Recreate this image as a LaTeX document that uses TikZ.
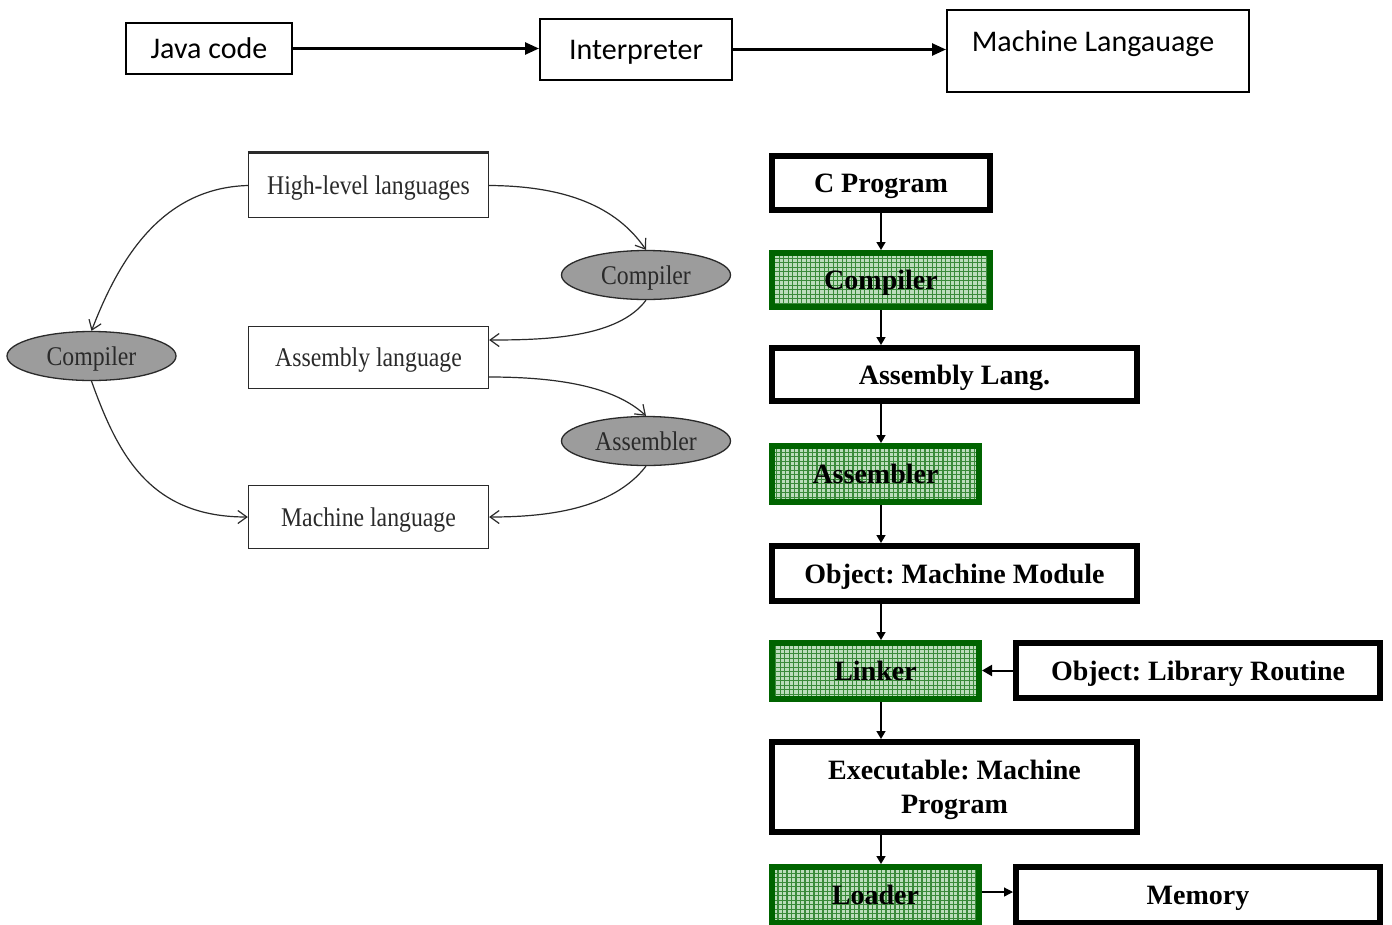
\documentclass[tikz,border=0pt]{standalone}
\usepackage{fontspec}
\setmainfont{Liberation Serif}
\newfontfamily\calibfont{Carlito}
\newfontfamily\narrowserif[FakeStretch=0.88]{Liberation Serif}
\usetikzlibrary{arrows.meta,shapes.geometric,calc}
\definecolor{toolgreen}{HTML}{006400}
\definecolor{gridgreen}{HTML}{3A8A3A}
\definecolor{cellgreen}{HTML}{BCDDBC}
\definecolor{inkgray}{HTML}{2A2A2A}
\definecolor{bubblegray}{HTML}{9C9C9C}
\frenchspacing
\begin{document}
\frenchspacing
\begin{tikzpicture}[x=1pt,y=-1pt,
  topbox/.style={draw=black, line width=2pt, inner sep=0pt, text depth=0pt,
    font=\calibfont\fontsize{30}{34}\selectfont},
  toparrow/.style={line width=2.5pt, -{Triangle[length=14pt,width=12pt]}},
  langbox/.style={draw=inkgray, line width=1.3pt, inner sep=0pt, text depth=0pt,
    minimum width=240pt, text=inkgray,
    font=\narrowserif\fontsize{27}{30}\selectfont},
  bubble/.style={ellipse, draw=inkgray, line width=1.3pt, fill=bubblegray,
    inner sep=0pt, minimum width=169pt, minimum height=49pt, text=inkgray,
    text depth=0pt, font=\narrowserif\fontsize{27}{30}\selectfont},
  curvearrow/.style={draw=inkgray, line width=1.2pt,
    -{Straight Barb[length=9pt,width=13pt]}},
  stagebox/.style={draw=black, line width=6pt, fill=white, inner sep=0pt,
    text depth=0pt, align=center, font=\bfseries\fontsize{28}{34}\selectfont},
  toolbox/.style={draw=toolgreen, line width=6pt, fill=cellgreen, inner sep=0pt,
    text depth=0pt, align=center, font=\bfseries\fontsize{28}{34}\selectfont,
    path picture={\draw[gridgreen, line width=1.1pt, step=4.5pt]
      (path picture bounding box.south west) grid
      (path picture bounding box.north east);}},
  flowarrow/.style={line width=1.5pt, -{Triangle[length=8pt,width=9pt]}}
]
\clip (0,0) rectangle (1392,924);
\fill[white] (0,0) rectangle (1392,924);

% ---- top row: interpreted Java ----
\node[topbox, minimum width=166pt, minimum height=51pt] (java) at (209,48.5) {Java code};
\node[topbox, minimum width=192pt, minimum height=61pt] (interp) at (636,49.5) {Interpreter};
\node[topbox, minimum width=302pt, minimum height=82pt] (mach) at (1098,51) {};
\node[inner sep=0pt, text depth=0pt, font=\calibfont\fontsize{30}{34}\selectfont] (machlbl) at (1093,41) {Machine Langauage};
\draw[toparrow] (java.east) -- (java.east -| interp.west);
\draw[toparrow] (interp.east) -- (interp.east -| mach.west);

% ---- left: translation paths ----
\node[langbox, minimum height=64pt] (hll) at (368.5,185.5) {High-level languages};
\draw[line width=3pt, inkgray] (hll.north west) -- (hll.north east);
\node[langbox, minimum height=62pt] (asml) at (368.5,357.5) {Assembly language};
\node[langbox, minimum height=63pt] (ml) at (368.5,517) {Machine language};
\node[bubble] (rcomp) at (646,275) {Compiler};
\node[bubble] (rasm) at (646,441) {Assembler};
\node[bubble] (lcomp) at (91.5,356) {Compiler};

\draw[curvearrow] (hll.west) .. controls (160,188) and (118,262) .. (lcomp.north);
\draw[curvearrow] (lcomp.south) .. controls (118,455) and (150,517) .. (ml.west);
\draw[curvearrow] (hll.east) .. controls (575,186) and (620,212) .. (rcomp.north);
\draw[curvearrow] (rcomp.south) .. controls (618,338) and (545,340) .. ([yshift=17.5pt]asml.east);
\draw[curvearrow] ([yshift=-19.5pt]asml.east) .. controls (575,377) and (620,392) .. (rasm.north);
\draw[curvearrow] (rasm.south) .. controls (612,510) and (545,517) .. (ml.east);

% ---- right: build pipeline ----
\node[stagebox, minimum width=218pt, minimum height=54pt] (cprog) at (881,183) {C Program};
\node[toolbox, minimum width=218pt, minimum height=54pt] (ccomp) at (881,280) {Compiler};
\node[stagebox, minimum width=365pt, minimum height=53pt] (alang) at (954.5,374.5) {Assembly Lang.};
\node[toolbox, minimum width=207pt, minimum height=56pt] (asmb) at (875.5,474) {Assembler};
\node[stagebox, minimum width=365pt, minimum height=55pt] (objm) at (954.5,573.5) {Object: Machine Module};
\node[toolbox, minimum width=207pt, minimum height=56pt] (link) at (875.5,671) {Linker};
\node[stagebox, minimum width=364pt, minimum height=55pt] (libr) at (1198,670.5) {Object: Library Routine};
\node[stagebox, minimum width=365pt, minimum height=90pt] (exe) at (954.5,787) {Executable: Machine\\Program};
\node[toolbox, minimum width=207pt, minimum height=56pt] (load) at (875.5,895) {Loader};
\node[stagebox, minimum width=364pt, minimum height=56pt] (mem) at (1198,895) {Memory};

\draw[flowarrow] (cprog.south) -- (cprog.south |- ccomp.north);
\draw[flowarrow] (ccomp.south) -- (ccomp.south |- alang.north);
\draw[flowarrow] (cprog.south |- alang.south) -- (cprog.south |- asmb.north);
\draw[flowarrow] (cprog.south |- asmb.south) -- (cprog.south |- objm.north);
\draw[flowarrow] (cprog.south |- objm.south) -- (cprog.south |- link.north);
\draw[flowarrow] (cprog.south |- link.south) -- (cprog.south |- exe.north);
\draw[flowarrow] (cprog.south |- exe.south) -- (cprog.south |- load.north);
\draw[line width=2pt, -{Triangle[length=10pt,width=11pt]}] (libr.west) -- (libr.west -| link.east);
\draw[line width=1.2pt, -{Triangle[length=9pt,width=9pt]}] ([yshift=3pt]load.east) -- ([yshift=3pt]load.east -| mem.west);
\end{tikzpicture}
\end{document}
